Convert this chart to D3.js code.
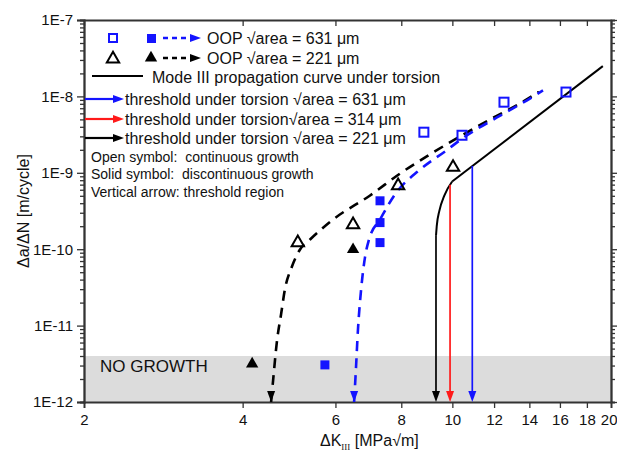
<!DOCTYPE html>
<html>
<head>
<meta charset="utf-8">
<script src="https://cdn.jsdelivr.net/npm/d3@7"></script>
<style>
  body { margin: 0; background: #fff; }
  text { font-family: "Liberation Sans", Arial, sans-serif; fill: #111; white-space: pre; }
</style>
</head>
<body>
<svg id="chart" width="617" height="455"></svg>
<script>
// axes
const xTicks = [2, 4, 6, 8, 10, 12, 14, 16, 18, 20];
const yTicks = [1e-12, 1e-11, 1e-10, 1e-9, 1e-8, 1e-7];
const yTickLabels = ["1E-12", "1E-11", "1E-10", "1E-9", "1E-8", "1E-7"];

// OOP sqrt(area) = 631 um
const oop631Open = [[8.83, 3.4e-9], [10.43, 3.1e-9], [12.53, 8.4e-9], [16.43, 1.14e-8]];
const oop631Solid = [[7.29, 4.3e-10], [7.29, 2.23e-10], [7.29, 1.22e-10], [5.73, 3.06e-12]];
const oop631Curve = [[6.51, 1e-12], [6.56, 2.6e-12], [6.62, 8.8e-12], [6.71, 2.9e-11], [6.83, 8e-11],
  [6.95, 1.35e-10], [7.29, 2.45e-10], [7.78, 5.2e-10], [8.68, 1.1e-9], [9.73, 1.95e-9],
  [10.43, 2.8e-9], [12.15, 5.3e-9], [13.86, 8.9e-9], [14.86, 1.2e-8]];

// OOP sqrt(area) = 221 um
const oop221Open = [[10.03, 1.18e-9], [7.89, 6.8e-10], [6.48, 2.1e-10], [5.09, 1.22e-10]];
const oop221Solid = [[6.48, 9.9e-11], [4.17, 3.15e-12]];
const oop221Curve = [[4.53, 1e-12], [4.57, 1.94e-12], [4.65, 6.5e-12], [4.73, 1.39e-11], [4.81, 2.95e-11],
  [4.96, 5.9e-11], [5.14, 9.9e-11], [5.37, 1.34e-10], [5.94, 2.45e-10], [6.98, 5.05e-10],
  [7.96, 9.8e-10], [9.07, 1.74e-9], [10.34, 3.0e-9], [11.79, 5.0e-9], [13.44, 8.1e-9], [14.6, 1.15e-8]];

// Mode III propagation curve under torsion: knee, then straight branch
const modeIIIKnee = [[9.31, 1.5e-10], [9.34, 2.0e-10], [9.45, 3.2e-10], [9.65, 5.0e-10], [9.99, 7.7e-10]];
const modeIIIBranch = [[9.99, 7.7e-10], [19.3, 2.49e-8]];

// threshold arrows: 631, 314, 221 um
const thresholdK = [10.91, 9.90, 9.31];
const thresholdTop = [1.23e-9, 7.0e-10, 1.5e-10];

const noGrowth = [1e-12, 4e-12];

const width = 617, height = 455;
const margin = { top: 20, right: 6, bottom: 53, left: 84 };
const plotW = width - margin.left - margin.right;
const plotH = height - margin.top - margin.bottom;

const svg = d3.select("#chart");
const g = svg.append("g").attr("transform", `translate(${margin.left},${margin.top})`);

const x = d3.scaleLog().domain([2, 20]).range([0, plotW]);
const y = d3.scaleLog().domain([1e-12, 1e-7]).range([plotH, 0]);

const BLUE = "#1414ff", RED = "#ff1a1a", BLACK = "#000", AXIS = "#333";

// no growth band
g.append("rect")
  .attr("x", 0).attr("width", plotW)
  .attr("y", y(noGrowth[1])).attr("height", y(noGrowth[0]) - y(noGrowth[1]))
  .attr("fill", "#dcdcdc");
g.append("text").attr("x", 16).attr("y", y(3e-12) + 6)
  .style("font-size", "17px").text("NO GROWTH");

// minor y ticks
const yMinor = y.ticks().filter(v => !yTicks.some(t => Math.abs(t - v) / t < 1e-6));

function styleAxis(sel) {
  sel.select(".domain").attr("stroke", AXIS).attr("stroke-width", 1.8);
  sel.selectAll(".tick line").attr("stroke", AXIS).attr("stroke-width", 1.3);
  sel.selectAll("text").style("font-size", "15px").attr("fill", "#111");
}

g.append("g").call(d3.axisLeft(y).tickValues(yMinor).tickSize(4).tickFormat(""))
  .call(styleAxis);
g.append("g").call(d3.axisLeft(y).tickValues(yTicks).tickSize(7).tickPadding(4)
  .tickFormat((d, i) => yTickLabels[i])).call(styleAxis);
g.append("g").attr("transform", `translate(${plotW},0)`)
  .call(d3.axisRight(y).tickValues(yMinor).tickSize(4).tickFormat("")).call(styleAxis);
g.append("g").attr("transform", `translate(${plotW},0)`)
  .call(d3.axisRight(y).tickValues(yTicks).tickSizeInner(7).tickSizeOuter(0).tickFormat("")).call(styleAxis);
const xAxisG = g.append("g").attr("transform", `translate(0,${plotH})`)
  .call(d3.axisBottom(x).tickValues(xTicks).tickSize(6).tickPadding(6).tickFormat(d3.format("d")))
  .call(styleAxis);
// keep the last label inside the page
xAxisG.selectAll(".tick text").filter(d => d === 20).attr("text-anchor", "end").attr("dx", 6);
g.append("g")
  .call(d3.axisTop(x).tickValues(xTicks).tickSizeInner(-6).tickSizeOuter(0).tickFormat(""))
  .call(styleAxis);

// axis titles
svg.append("text")
  .attr("transform", `translate(29,${margin.top + plotH / 2}) rotate(-90)`)
  .attr("text-anchor", "middle").style("font-size", "16px")
  .text("\u0394a/\u0394N [m/cycle]");
const xt = svg.append("text").attr("x", 320).attr("y", 446).style("font-size", "16px");
xt.append("tspan").text("\u0394K");
xt.append("tspan").attr("dy", 4).style("font-size", "9px").style("font-family", "Liberation Serif, serif").text("III");
xt.append("tspan").attr("dy", -4).text(" [MPa\u221Am]");

// curves
const line = d3.line().x(d => x(d[0])).y(d => y(d[1])).curve(d3.curveMonotoneX);
const straight = d3.line().x(d => x(d[0])).y(d => y(d[1]));

function downHead(px, py, color) {
  g.append("path").attr("d", `M${px},${py} L${px - 4},${py - 11} L${px + 4},${py - 11} Z`).attr("fill", color);
}

g.append("path").datum(oop221Curve).attr("d", line)
  .attr("fill", "none").attr("stroke", BLACK).attr("stroke-width", 2.6).attr("stroke-dasharray", "10,7");
downHead(x(oop221Curve[0][0]), y(oop221Curve[0][1]), BLACK);

g.append("path").datum(oop631Curve).attr("d", line)
  .attr("fill", "none").attr("stroke", BLUE).attr("stroke-width", 2.6).attr("stroke-dasharray", "10,7");
downHead(x(oop631Curve[0][0]), y(oop631Curve[0][1]), BLUE);

g.append("path").datum(modeIIIKnee).attr("d", line)
  .attr("fill", "none").attr("stroke", BLACK).attr("stroke-width", 2);
g.append("path").datum(modeIIIBranch).attr("d", straight)
  .attr("fill", "none").attr("stroke", BLACK).attr("stroke-width", 2);

// threshold arrows
const thColors = [BLUE, RED, BLACK];
thresholdK.forEach((k, i) => {
  g.append("line")
    .attr("x1", x(k)).attr("x2", x(k))
    .attr("y1", y(thresholdTop[i])).attr("y2", y(1e-12) - 6)
    .attr("stroke", thColors[i]).attr("stroke-width", 1.7);
  downHead(x(k), y(1e-12), thColors[i]);
});

// markers
const sq = 9, tri = d3.symbol().type(d3.symbolTriangle).size(66);
function squares(data, filled, color) {
  g.selectAll(null).data(data).enter().append("rect")
    .attr("x", d => x(d[0]) - sq / 2).attr("y", d => y(d[1]) - sq / 2)
    .attr("width", sq).attr("height", sq)
    .attr("fill", filled ? color : "none").attr("stroke", color).attr("stroke-width", filled ? 0 : 2);
}
function triangles(data, filled) {
  g.selectAll(null).data(data).enter().append("path")
    .attr("d", tri).attr("transform", d => `translate(${x(d[0])},${y(d[1])})`)
    .attr("fill", filled ? BLACK : "none").attr("stroke", BLACK).attr("stroke-width", filled ? 0 : 2);
}
squares(oop631Open, false, BLUE);
squares(oop631Solid, true, BLUE);
triangles(oop221Open, false);
triangles(oop221Solid, true);

// legend
const lg = svg.append("g");
function rightHead(px, py, color) {
  lg.append("path").attr("d", `M${px},${py} L${px - 11},${py - 4} L${px - 11},${py + 4} Z`).attr("fill", color);
}
function legendText(tx, ty, s, size) {
  lg.append("text").attr("x", tx).attr("y", ty).style("font-size", size).text(s);
}
// row 1
lg.append("rect").attr("x", 109).attr("y", 34).attr("width", 8).attr("height", 8)
  .attr("fill", "none").attr("stroke", BLUE).attr("stroke-width", 2);
lg.append("rect").attr("x", 147).attr("y", 34).attr("width", 9).attr("height", 9).attr("fill", BLUE);
lg.append("line").attr("x1", 163).attr("x2", 192).attr("y1", 38).attr("y2", 38)
  .attr("stroke", BLUE).attr("stroke-width", 2.4).attr("stroke-dasharray", "5,4");
rightHead(201, 38, BLUE);
legendText(207, 44, "OOP \u221Aarea = 631 \u03BCm", "16px");
// row 2
lg.append("path").attr("d", tri).attr("transform", "translate(113,59)")
  .attr("fill", "none").attr("stroke", BLACK).attr("stroke-width", 2);
lg.append("path").attr("d", tri).attr("transform", "translate(151,58)").attr("fill", BLACK);
lg.append("line").attr("x1", 163).attr("x2", 192).attr("y1", 58).attr("y2", 58)
  .attr("stroke", BLACK).attr("stroke-width", 2.4).attr("stroke-dasharray", "5,4");
rightHead(201, 58, BLACK);
legendText(207, 64, "OOP \u221Aarea = 221 \u03BCm", "16px");
// row 3
lg.append("line").attr("x1", 92).attr("x2", 143).attr("y1", 76).attr("y2", 76)
  .attr("stroke", BLACK).attr("stroke-width", 2);
legendText(152, 83, "Mode III propagation curve under torsion", "16px");
// rows 4-6
const thLabels = ["threshold under torsion \u221Aarea = 631 \u03BCm",
  "threshold under torsion\u221Aarea = 314 \u03BCm",
  "threshold under torsion \u221Aarea = 221 \u03BCm"];
[99, 119, 138].forEach((ry, i) => {
  lg.append("line").attr("x1", 85).attr("x2", 115).attr("y1", ry).attr("y2", ry)
    .attr("stroke", thColors[i]).attr("stroke-width", 2.2);
  rightHead(124, ry, thColors[i]);
  legendText(125, ry + 6, thLabels[i], "16px");
});
legendText(91, 162, "Open symbol:  continuous growth", "14px");
legendText(91, 179, "Solid symbol:  discontinuous growth", "14px");
legendText(91, 197, "Vertical arrow: threshold region", "14px");
</script>
</body>
</html>
